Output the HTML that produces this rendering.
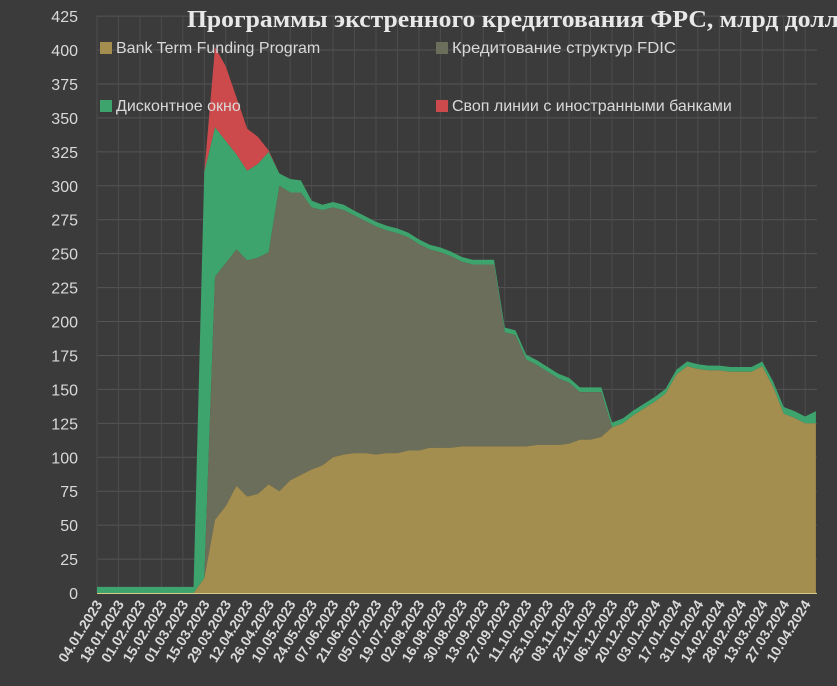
<!DOCTYPE html>
<html><head><meta charset="utf-8">
<style>
html,body{margin:0;padding:0;background:#3b3b3b;}
svg{display:block}
</style></head><body>
<svg id="c" width="837" height="686" xmlns="http://www.w3.org/2000/svg">
<rect width="837" height="686" fill="#3b3b3b"/>
<g id="grid"></g>
<g id="areas"></g>
<g id="labels" font-family="Liberation Sans, DejaVu Sans, sans-serif" fill="#d9d9d9"></g>
<text x="187" y="27" font-family="Liberation Serif, DejaVu Serif, serif" font-weight="bold" font-size="24" fill="#e8e8e8" textLength="652" lengthAdjust="spacingAndGlyphs">Программы экстренного кредитования ФРС, млрд долл</text>
<g font-family="Liberation Sans, DejaVu Sans, sans-serif" font-size="16" fill="#d9d9d9">
<rect x="100" y="42" width="12" height="12" fill="#a38d4f"/><text x="116" y="53">Bank Term Funding Program</text>
<rect x="436" y="42" width="12" height="12" fill="#6a6e5a"/><text x="452" y="53" textLength="224" lengthAdjust="spacingAndGlyphs">Кредитование структур FDIC</text>
<rect x="100" y="100" width="12" height="12" fill="#3ea46d"/><text x="116" y="111">Дисконтное окно</text>
<rect x="436" y="100" width="12" height="12" fill="#cc4a4b"/><text x="452" y="111">Своп линии с иностранными банками</text>
</g>
</svg>
<script>
const NS="http://www.w3.org/2000/svg";
const X=i=>97+i*10.73, Y=v=>593-v*1.3575;
const N=68;
let b=new Array(N).fill(0);
const bv=[11,54,64,79,71,73,80,75,83,87,91,94,100,102,103,103,102,103,103,105,105,107,107,107,108,108,108,108,108,108,108,109,109,109,110,113,113,115,122,125,131,136,141,147,161,167,165,164,164,163,163,163,167,152,132,129,125,125];
for(let k=0;k<bv.length;k++) b[10+k]=bv[k];
let f=b.slice();
const fv=[11,233,243,253,245,247,251,300,295,295,284,282,284,282,278,274,270,267,265,262,257,253,251,248,244,242,242,242,192,190,172,168,163,158,155,148,148,148,122];
for(let k=0;k<fv.length;k++) f[10+k]=Math.max(fv[k],b[10+k]);
let g=f.map(v=>v+3.5);
for(let i=0;i<10;i++) g[i]=4.5;
const gv={10:310,11:343,12:333,13:323,14:311,15:316,16:325,17:309,18:305,19:304,20:289,21:286,22:288,23:286,63:156,64:137,65:134,66:130,67:134};
for(const k in gv) g[k]=gv[k];
let r=g.slice();
const rv={10:310,11:402,12:388,13:365,14:342,15:336,16:326};
for(const k in rv) r[k]=rv[k];
function area(top,bot,col){
  let d="M"+X(0)+","+Y(top[0]);
  for(let i=1;i<N;i++) d+="L"+X(i)+","+Y(top[i]);
  for(let i=N-1;i>=0;i--) d+="L"+X(i)+","+Y(bot[i]);
  d+="Z";
  const p=document.createElementNS(NS,"path");p.setAttribute("d",d);p.setAttribute("fill",col);
  document.getElementById("areas").appendChild(p);
}
const z=new Array(N).fill(0);
area(r,g,"#cc4a4b");
area(g,f,"#3ea46d");
area(f,b,"#6a6e5a");
area(b,z,"#a38d4f");
const grid=document.getElementById("grid"),lab=document.getElementById("labels");
for(let v=0;v<=425;v+=25){
  const l=document.createElementNS(NS,"line");
  l.setAttribute("x1",97);l.setAttribute("x2",817);l.setAttribute("y1",Y(v));l.setAttribute("y2",Y(v));
  l.setAttribute("stroke","#555");l.setAttribute("stroke-width","1");grid.appendChild(l);
  const t=document.createElementNS(NS,"text");t.setAttribute("x",78);t.setAttribute("y",Y(v)+6);
  t.setAttribute("text-anchor","end");t.setAttribute("font-size","16");t.textContent=v;lab.appendChild(t);
}
const d0=new Date(Date.UTC(2023,0,4));
for(let i=0;i<N;i+=2){
  const l=document.createElementNS(NS,"line");
  l.setAttribute("x1",X(i));l.setAttribute("x2",X(i));l.setAttribute("y1",Y(425));l.setAttribute("y2",593);
  l.setAttribute("stroke","#4d4d4d");grid.appendChild(l);
  if(i>66) continue;
  const d=new Date(d0.getTime()+i*7*86400000);
  const s=String(d.getUTCDate()).padStart(2,"0")+"."+String(d.getUTCMonth()+1).padStart(2,"0")+"."+d.getUTCFullYear();
  const t=document.createElementNS(NS,"text");
  const x=X(i)+6,y=604;
  t.setAttribute("x",x);t.setAttribute("y",y);t.setAttribute("text-anchor","end");
  t.setAttribute("font-size","14");t.setAttribute("font-weight","bold");
  t.setAttribute("transform","rotate(-58 "+x+" "+y+")");t.textContent=s;lab.appendChild(t);
}
const base=document.createElementNS(NS,"line");
base.setAttribute("x1",97);base.setAttribute("x2",817);base.setAttribute("y1",593.5);base.setAttribute("y2",593.5);
base.setAttribute("stroke","#d8c98a");base.setAttribute("stroke-width","1");grid.parentNode.appendChild(base);
</script>
</body></html>
